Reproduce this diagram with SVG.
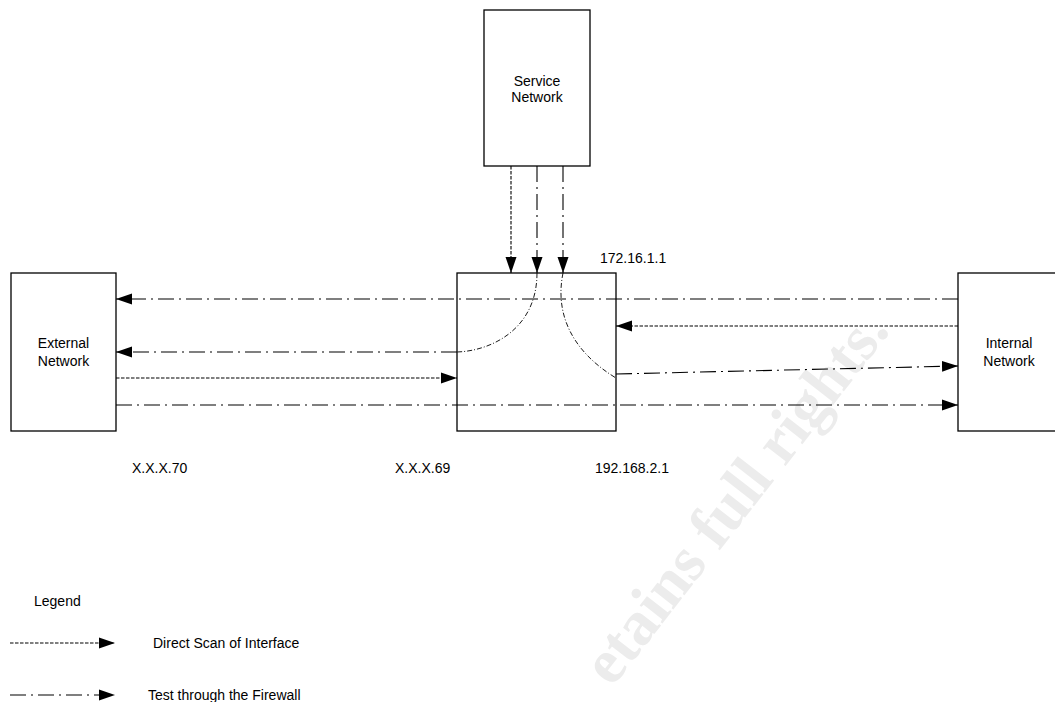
<svg xmlns="http://www.w3.org/2000/svg" width="1055" height="702" viewBox="0 0 1055 702">
<style>
.box{fill:#fff;stroke:#000;stroke-width:1.3}
.lbl{font-family:"Liberation Sans",Arial,sans-serif;font-size:14px;fill:#000}
.c{text-anchor:middle}
.dot{fill:none;stroke:#000;stroke-width:1.1;stroke-dasharray:3.5,1.5}
.dd{fill:none;stroke:#000;stroke-width:1.1;stroke-dasharray:16,5,2,5}
.fine{fill:none;stroke:#000;stroke-width:0.9;stroke-dasharray:5,2,1,2}
.wm{font-family:"Liberation Serif","Times New Roman",serif;font-weight:bold;font-size:63px;fill:#ececec}
</style>
<defs>
<marker id="ah" markerUnits="userSpaceOnUse" markerWidth="17" markerHeight="12" refX="16" refY="6" orient="auto">
<path d="M0,0.5 L16,6 L0,11.5 z" fill="#000"/>
</marker>
</defs>
<rect width="1055" height="702" fill="#fff"/>
<text class="wm" transform="translate(612,688) rotate(-52)">etains full rights.</text>

<g id="service">
<rect class="box" x="484" y="10" width="106" height="156"/>
<text class="lbl c" x="537" y="86">Service</text>
<text class="lbl c" x="537" y="102">Network</text>
</g>
<g id="firewall">
<rect class="box" x="457" y="273" width="159" height="158"/>
</g>
<g id="external">
<rect class="box" x="11" y="273" width="105" height="158"/>
<text class="lbl c" x="63.5" y="348">External</text>
<text class="lbl c" x="63.5" y="366">Network</text>
</g>
<g id="internal">
<rect class="box" x="958" y="273" width="104" height="158"/>
<text class="lbl c" x="1009" y="348">Internal</text>
<text class="lbl c" x="1009" y="366">Network</text>
</g>

<g id="connectors">
<path class="dot" d="M511,166 V273" marker-end="url(#ah)"/>
<path class="dd" d="M537,166 V273" marker-end="url(#ah)"/>
<path class="dd" d="M563,166 V273" marker-end="url(#ah)"/>
<path class="dd" d="M958,299 H116" marker-end="url(#ah)"/>
<path class="dot" d="M958,326 H616" marker-end="url(#ah)"/>
<path class="fine" d="M537,273 C537,330 490,351 457,352"/>
<path class="dd" d="M457,352 H116" marker-end="url(#ah)"/>
<path class="dot" d="M116,378 H457" marker-end="url(#ah)"/>
<path class="dd" d="M116,405 H958" marker-end="url(#ah)"/>
<path class="fine" d="M563,273 C555,312 570,350 616,378"/>
<path class="dd" d="M616,374 L958,366" marker-end="url(#ah)"/>
</g>

<g id="labels">
<text class="lbl" x="600" y="263">172.16.1.1</text>
<text class="lbl" x="132" y="473">X.X.X.70</text>
<text class="lbl" x="395" y="473">X.X.X.69</text>
<text class="lbl" x="595" y="473">192.168.2.1</text>
</g>

<g id="legend">
<text class="lbl" x="34" y="606">Legend</text>
<path class="dot" d="M10,643 H115" marker-end="url(#ah)"/>
<text class="lbl" x="153" y="648">Direct Scan of Interface</text>
<path class="dd" d="M10,695 H115" marker-end="url(#ah)"/>
<text class="lbl" x="148" y="700">Test through the Firewall</text>
</g>
</svg>
